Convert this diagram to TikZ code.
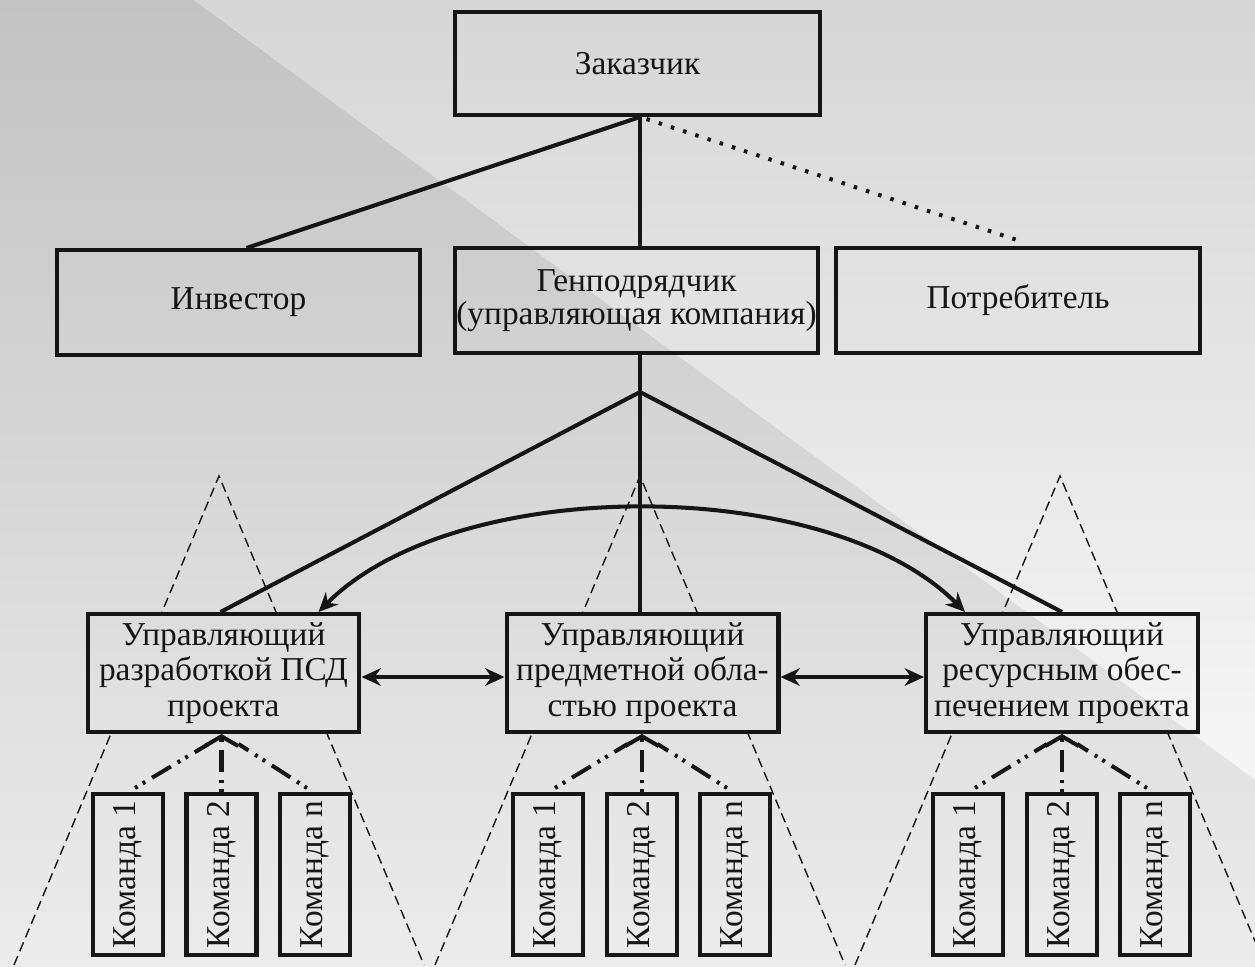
\documentclass[tikz,border=0pt]{standalone}
\usepackage{fontspec}
\setmainfont{Liberation Serif}
\usepackage{graphicx}
\usetikzlibrary{arrows.meta,calc}

\definecolor{ink}{gray}{0.1}
\definecolor{bgA}{gray}{0.765}
\definecolor{bgB}{gray}{0.925}
\definecolor{bgC}{gray}{0.84}
\definecolor{bgD}{gray}{0.965}

\begin{document}
\begin{tikzpicture}[x=0.02cm,y=-0.02cm,
  box/.style={draw=ink, line width=2.3pt, fill=white, inner sep=0pt,
    text=ink, align=center, font=\rmfamily\fontsize{19}{19}\selectfont},
  topbox/.style={box, minimum width=7.28cm, minimum height=2.1cm},
  mgr/.style={box, minimum width=5.44cm, minimum height=2.36cm,
    font=\rmfamily\fontsize{19}{20}\selectfont},
  team/.style={box, minimum width=1.4cm, minimum height=3.22cm},
  link/.style={draw=ink, line width=2.3pt},
  dotlink/.style={draw=ink, line width=2.3pt, dash pattern=on 2pt off 5.3pt},
  teamlink/.style={draw=ink, line width=2.3pt,
    dash pattern=on 1.7pt off 3.4pt on 1.7pt off 4.5pt on 12.5pt off 4.5pt},
  barb/.style={-{Straight Barb[length=5.5pt,width=19pt]}},
  zone/.style={draw=ink, line width=0.8pt, dash pattern=on 5.5pt off 3pt},
  tip/.style={{Stealth[length=11pt,width=10pt]}-{Stealth[length=11pt,width=10pt]}}
]
\useasboundingbox (0,0) rectangle (1255,967);
\clip (0,0) rectangle (1255,967);
\fill[white] (0,0) rectangle (1255,967);

% managers first, so the dashed zones can be anchored to them
\node[mgr] (m1) at (223.5,673) {Управляющий\\разработкой ПСД\\проекта};
\node[mgr] (m2) at (642.5,673) {Управляющий\\предметной обла-\\стью проекта};
\node[mgr] (m3) at (1062,673) {Управляющий\\ресурсным обес-\\печением проекта};

% dashed zones of responsibility
\foreach \m/\dx in {m1/-4.5, m2/-2.5, m3/-2}{
  \coordinate (apex-\m) at ($(\m.north)+(\dx,-136)$);
  \draw[zone] ($(apex-\m)+(-205,489)$) -- (apex-\m) -- ($(apex-\m)+(205,489)$);
}

% redraw the managers above the zones
\node[mgr] at (m1) {Управляющий\\разработкой ПСД\\проекта};
\node[mgr] at (m2) {Управляющий\\предметной обла-\\стью проекта};
\node[mgr] at (m3) {Управляющий\\ресурсным обес-\\печением проекта};

% upper levels
\node[topbox, minimum width=7.3cm, minimum height=2.06cm] (zak) at (637.5,63.5) {Заказчик};
\node[topbox, minimum width=7.26cm] (inv) at (238.5,302.5) {Инвестор};
\node[topbox, minimum width=7.26cm, font=\rmfamily\fontsize{19}{18.7}\selectfont] (gen) at (636.5,300.5)
  {Генподрядчик\\(управляющая компания)};
\node[topbox] (pot) at (1018,300.5) {Потребитель};

% teams
\foreach \g/\xa/\xb/\xc in {1/128/221.5/315, 2/548/642/735, 3/968/1062/1155}{
  \node[team] (t\g a) at (\xa,874.5) {\rotatebox{90}{Команда 1}};
  \node[team] (t\g b) at (\xb,874.5) {\rotatebox{90}{Команда 2}};
  \node[team] (t\g c) at (\xc,874.5) {\rotatebox{90}{Команда n}};
}

% links between upper levels
\draw[link] ($(zak.south)+(2.5,0)$) -- ($(inv.north)+(8,0)$);
\draw[link] ($(zak.south)+(2.5,0)$) -- ($(zak.south |- gen.north)+(2.5,0)$);
\draw[dotlink] ($(zak.south)+(9,2)$) -- ($(pot.north)+(2,-5)$);

\coordinate (j) at ($(gen.south)+(3.5,37)$);
\draw[link] (gen.south -| j) -- (j);
\draw[link] (j) -- ($(m1.north)+(-3,0)$);
\draw[link] (j) -- (j |- m2.north);
\draw[link] (j) -- (m3.north);

% links between managers
\draw[link, tip] ($(m1.east)+(0,4)$) -- ($(m2.west)+(0,4)$);
\draw[link, tip] ($(m2.east)+(0,4)$) -- ($(m3.west)+(0,4)$);
\draw[link, tip] ($(m1.north)+(95,0)$) .. controls +(136.5,-138) and +(-137,-138) .. ($(m3.north)+(-97,0)$);

% teams report to their managers
\foreach \g in {1,2,3}{
  \draw[teamlink] ($(t\g a.north)+(7,-4)$) -- ($(m\g.south)+(-15,10)$);
  \draw[teamlink] ($(t\g c.north)+(-8,-4)$) -- ($(m\g.south)+(15,10)$);
  \draw[teamlink, barb] (t\g b.north) -- (t\g b.north |- m\g.south);
}

% tinted backdrop
\begin{scope}[blend mode=multiply]
  \shade[top color=bgA, bottom color=bgB]
    (0,0) -- (193,0) -- (1255,780) -- (1255,967) -- (0,967) -- cycle;
  \shade[top color=bgC, bottom color=bgD]
    (193,0) -- (1255,0) -- (1255,780) -- cycle;
\end{scope}
\end{tikzpicture}
\end{document}
